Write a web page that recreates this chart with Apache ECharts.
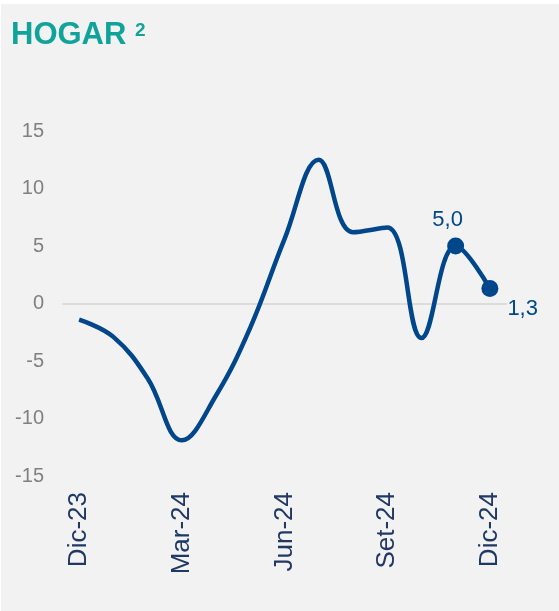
<!DOCTYPE html>
<html>
<head>
<meta charset="utf-8">
<script src="https://cdn.jsdelivr.net/npm/echarts@6/dist/echarts.min.js"></script>
<style>
  html, body { margin: 0; padding: 0; background: #ffffff; }
  #chart { position: absolute; left: 1px; top: 4px; width: 558px; height: 607px; }
</style>
</head>
<body>
<div id="chart"></div>
<script>
// meses (Dic-23 .. Dic-24)
const months = ['Dic-23', 'Ene-24', 'Feb-24', 'Mar-24', 'Abr-24', 'May-24', 'Jun-24',
  'Jul-24', 'Ago-24', 'Set-24', 'Oct-24', 'Nov-24', 'Dic-24']
// variacion hogar
const hogar = [-1.4, -2.9, -6.5, -11.9, -8.0, -2.1, 5.6, 12.5, 6.2, 6.6, -3.0, 5.0, 1.3]
// ticks eje y
const yTicks = [-15, -10, -5, 0, 5, 10, 15]

const fontFamily = '"Liberation Sans", Arial, sans-serif'
const navy = '#00468a'

const lastIdx = hogar.length - 1
const seriesData = hogar.map((v, i) => {
  if (i === lastIdx - 1) {
    return {
      value: v,
      symbol: 'circle',
      label: { show: true, position: 'top', distance: 7, offset: [-8, 0] },
    }
  }
  if (i === lastIdx) {
    return {
      value: v,
      symbol: 'circle',
      label: { show: true, position: 'right', distance: 9, offset: [0, 20] },
    }
  }
  return { value: v, symbol: 'none' }
})

// solo la linea del cero
const splitColors = yTicks.map(t => (t === 0 ? '#dcdcdc' : 'rgba(0,0,0,0)'))

const chart = echarts.init(document.getElementById('chart'))
chart.setOption({
  backgroundColor: '#f2f2f2',
  animation: false,
  title: [
    {
      text: 'HOGAR',
      left: 10,
      top: 16,
      padding: 0,
      textStyle: { color: '#10a39a', fontSize: 31, fontWeight: 'bold', fontFamily },
    },
    {
      text: '2',
      left: 134,
      top: 17,
      padding: 0,
      textStyle: { color: '#10a39a', fontSize: 19, fontWeight: 'bold', fontFamily },
    },
  ],
  grid: {
    left: 61,
    right: 52,
    top: 127,
    bottom: 135,
  },
  xAxis: {
    type: 'category',
    data: months,
    boundaryGap: true,
    axisLine: { show: false },
    axisTick: { show: false },
    axisLabel: {
      interval: 2,
      rotate: 90,
      margin: 16,
      color: '#1f3864',
      fontSize: 26,
      fontFamily,
    },
  },
  yAxis: {
    type: 'value',
    min: yTicks[0],
    max: yTicks[yTicks.length - 1],
    interval: 5,
    axisLine: { show: false },
    axisTick: { show: false },
    axisLabel: {
      margin: 18,
      color: '#808080',
      fontSize: 20,
      fontFamily,
    },
    splitLine: {
      show: true,
      lineStyle: { color: splitColors, width: 2 },
    },
  },
  series: [
    {
      type: 'line',
      data: seriesData,
      smooth: 0.4,
      symbolSize: 17,
      showAllSymbol: true,
      lineStyle: { color: navy, width: 4.5 },
      itemStyle: { color: navy },
      label: {
        color: navy,
        fontSize: 22,
        fontFamily,
        formatter: p => p.value.toFixed(1).replace('.', ','),
      },
      emphasis: { disabled: true },
    },
  ],
})
</script>
</body>
</html>
